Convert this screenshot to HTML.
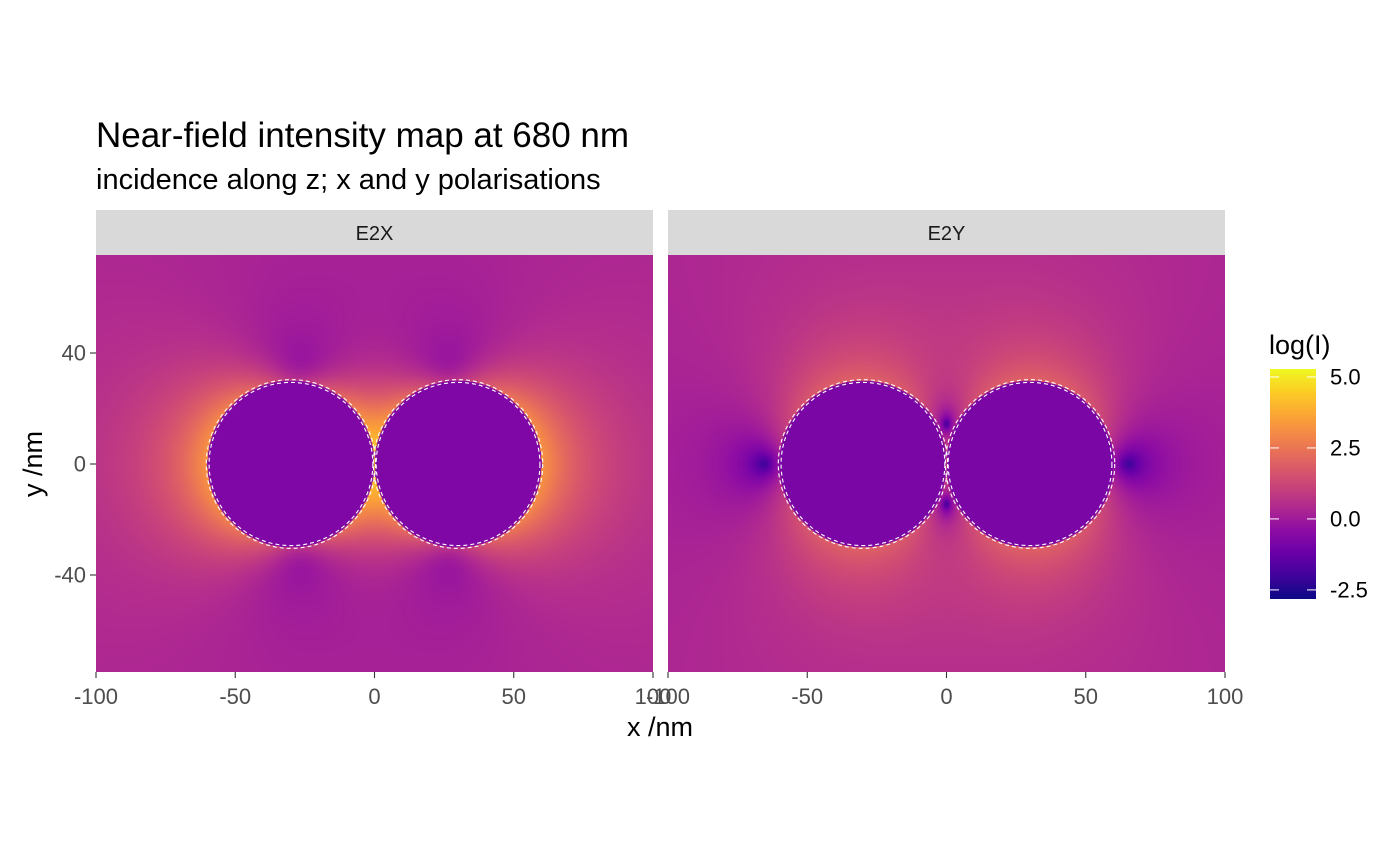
<!DOCTYPE html>
<html><head><meta charset="utf-8"><style>
body{margin:0;background:#fff;width:1400px;height:865px;position:relative;overflow:hidden;font-family:"Liberation Sans",sans-serif}
.a{position:absolute;white-space:nowrap}
canvas{position:absolute}
</style></head><body>
<div class="a" style="left:96px;top:210px;width:557px;height:45px;background:#d9d9d9"></div>
<div class="a" style="left:668px;top:210px;width:557px;height:45px;background:#d9d9d9"></div>
<canvas id="c0" width="557" height="417" style="left:96px;top:255px"></canvas>
<canvas id="c1" width="557" height="417" style="left:668px;top:255px"></canvas>
<canvas id="cb" width="46" height="230" style="left:1270px;top:369px"></canvas>
<svg id="ov" width="1400" height="865" style="position:absolute;left:0;top:0" font-family="Liberation Sans, sans-serif">
<text x="96" y="147" font-size="35" fill="#000">Near-field intensity map at 680 nm</text>
<text x="96" y="189" font-size="29" fill="#000">incidence along z; x and y polarisations</text>
<text x="374.5" y="240" font-size="20" fill="#1a1a1a" text-anchor="middle">E2X</text>
<text x="946.5" y="240" font-size="20" fill="#1a1a1a" text-anchor="middle">E2Y</text>
<text x="660" y="736" font-size="27" fill="#000" text-anchor="middle">x /nm</text>
<text transform="translate(42,464) rotate(-90)" font-size="27" fill="#000" text-anchor="middle">y /nm</text>
<text x="1269" y="354" font-size="27" fill="#000">log(I)</text>
</svg>
<script>
const xTicks=[-100,-50,0,50,100];
const yTicks=[-40,0,40];
const cbTicks=[-2.5,0,2.5,5];
const cbLabels=["-2.5","0.0","2.5","5.0"];
const sphereX=[-30,30];
const sphereR=[30];
const dipoleStrength=[49000,42000]; // E2X, E2Y
const dipolePhase=[0.93,0.15]; // radians
const logScale=[1.0,0.6];
const insideValue=[-0.75,-0.85];
const logOffset=[0.3,0.3];
const limits=[-2.82,5.28];
const plasma=["#0d0887","#41049d","#6a00a8","#8f0da4","#b12a90","#cc4778","#e16462","#f2844b","#fca636","#fcce25","#f0f921"];
const panels=[96,668];
const pw=557,top0=255,ph=417;
const X=(v,p)=>panels[p]+(v+100)/200*pw;
const Y=v=>464-v*2.775;
const pc=plasma.map(h=>[1,3,5].map(i=>parseInt(h.substr(i,2),16)));
function col(v){let f=(v-limits[0])/(limits[1]-limits[0]);f=Math.max(0,Math.min(1,f))*10;const i=Math.min(9,Math.floor(f)),t=f-i;return pc[i].map((c,k)=>c+(pc[i+1][k]-c)*t);}
for(let p=0;p<2;p++){
 const cv=document.getElementById('c'+p),ctx=cv.getContext('2d'),im=ctx.createImageData(pw,ph);
 const cr=Math.cos(dipolePhase[p]),ci=Math.sin(dipolePhase[p]);
 for(let j=0;j<ph;j++)for(let i=0;i<pw;i++){
  const x=(i+0.5)/pw*200-100,y=(464-(top0+j+0.5))/2.775;
  let v,inside=false,gx=0,gy=0;
  for(const cx of sphereX){const dx=x-cx,dy=y,r2=dx*dx+dy*dy,r=Math.sqrt(r2);
   if(r<sphereR[0])inside=true;
   const pd=dipoleStrength[p];const px=p==0?pd:0,py=p==0?0:pd;
   const nx=dx/r,ny=dy/r,pn=px*nx+py*ny,r3=Math.max(r2*r,1);
   gx+=(3*pn*nx-px)/r3;gy+=(3*pn*ny-py)/r3;}
  const exr=(p==0?1:0)+gx*cr,exi=gx*ci,eyr=(p==0?0:1)+gy*cr,eyi=gy*ci;
  if(inside)v=insideValue[p];
  else v=logScale[p]*Math.log(exr*exr+exi*exi+eyr*eyr+eyi*eyi+1e-4)+logOffset[p];
  const c=col(v),k=(j*pw+i)*4;im.data[k]=c[0];im.data[k+1]=c[1];im.data[k+2]=c[2];im.data[k+3]=255;}
 ctx.putImageData(im,0,0);
}
const cb=document.getElementById('cb').getContext('2d');
for(let j=0;j<230;j++){const v=limits[1]-(j+0.5)/230*(limits[1]-limits[0]);const c=col(v);cb.fillStyle=`rgb(${c[0]|0},${c[1]|0},${c[2]|0})`;cb.fillRect(0,j,46,1);}
const ov=document.getElementById('ov');const NS='http://www.w3.org/2000/svg';
function mk(t,a){const e=document.createElementNS(NS,t);for(const k in a)e.setAttribute(k,a[k]);ov.appendChild(e);return e;}
for(let p=0;p<2;p++){
 for(const cx of sphereX)for(const rr of [sphereR[0]-0.6,sphereR[0]+0.4]){
  const e=mk('ellipse',{cx:X(cx,p),cy:Y(0),rx:rr*2.785,ry:rr*2.775,fill:'none',stroke:'#fff','stroke-width':1.1,'stroke-dasharray':'4 3'});
  
  }
 xTicks.forEach(t=>{mk('line',{x1:X(t,p),x2:X(t,p),y1:672,y2:678,stroke:'#333','stroke-width':1.1});
  const tx=mk('text',{x:X(t,p),y:704,'text-anchor':'middle','font-size':22,fill:'#4d4d4d'});tx.textContent=t;
  
  });
}
yTicks.forEach(t=>{mk('line',{x1:90,x2:96,y1:Y(t),y2:Y(t),stroke:'#333','stroke-width':1.1});
 const tx=mk('text',{x:86,y:Y(t)+7.5,'text-anchor':'end','font-size':22,fill:'#4d4d4d'});tx.textContent=t;
 
 });
cbTicks.forEach((t,i)=>{const y=369+(limits[1]-t)/(limits[1]-limits[0])*230;
 mk('line',{x1:1270,x2:1279,y1:y,y2:y,stroke:'#fff','stroke-width':1});
 mk('line',{x1:1307,x2:1316,y1:y,y2:y,stroke:'#fff','stroke-width':1});
 const tx=mk('text',{x:1330,y:y+7.5,'font-size':22,fill:'#000'});tx.textContent=cbLabels[i];
 
 });
</script>
</body></html>
